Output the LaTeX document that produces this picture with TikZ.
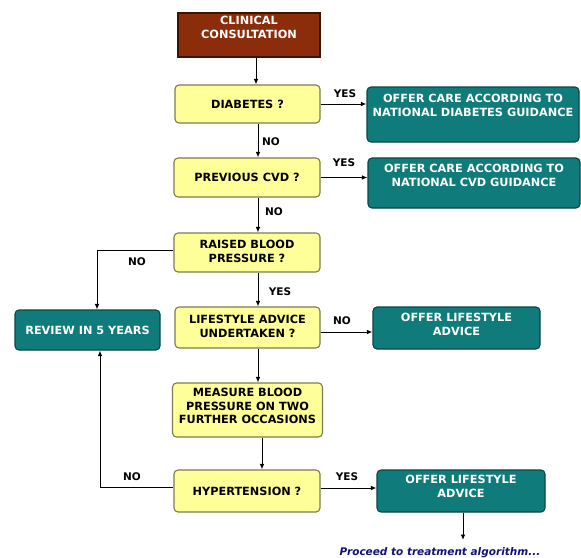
\documentclass[tikz,border=0pt]{standalone}
\usepackage{fontspec}
\setmainfont{DejaVu Sans}
\usetikzlibrary{arrows.meta}
\definecolor{ylw}{HTML}{FFFF99}
\definecolor{ylwb}{HTML}{7C7C55}
\definecolor{tealf}{HTML}{0F7C7B}
\definecolor{tealb}{HTML}{0A4545}
\definecolor{brn}{HTML}{8B2C0A}
\definecolor{brnb}{HTML}{3A1405}
\definecolor{navyt}{HTML}{12127A}
\newcommand{\boxtext}[2]{\begin{tabular}{@{}c@{}}#1\\[#2]\end{tabular}}
\tikzset{
  boxbase/.style={rounded corners=4pt, line width=1.1pt, inner sep=0pt,
    font=\bfseries\fontsize{11.3}{13.6}\selectfont},
  ybox/.style={boxbase, draw=ylwb, fill=ylw, text=black},
  tbox/.style={boxbase, draw=tealb, fill=tealf, text=white},
  bbox/.style={boxbase, draw=brnb, fill=brn, text=white, rounded corners=0pt},
  lbl/.style={font=\bfseries\fontsize{10.5}{12}\selectfont, inner sep=0pt},
  arr/.style={draw=black, line width=0.9pt, -{Latex[length=5.5pt,width=4.5pt]}},
  ln/.style={draw=black, line width=0.9pt}
}
\begin{document}
\begin{tikzpicture}[x=1pt,y=-1pt]
\useasboundingbox[fill=white] (0,0) rectangle (581,557);
% nodes
\node[bbox, minimum width=142pt, minimum height=44pt] (cc) at (249,35) {\boxtext{CLINICAL\\CONSULTATION}{13pt}};
\node[ybox, minimum width=145pt, minimum height=38pt] (diab) at (247.5,104) {DIABETES ?};
\node[tbox, minimum width=212pt, minimum height=55pt] (odg) at (473,114.5) {\boxtext{OFFER CARE ACCORDING TO\\NATIONAL DIABETES GUIDANCE}{16pt}};
\node[ybox, minimum width=146pt, minimum height=39pt] (cvd) at (247,177.5) {PREVIOUS CVD ?};
\node[tbox, minimum width=212pt, minimum height=50pt] (ocvd) at (474,183) {\boxtext{OFFER CARE ACCORDING TO\\NATIONAL CVD GUIDANCE}{13pt}};
\node[ybox, minimum width=146pt, minimum height=39pt] (rbp) at (247,252.5) {\boxtext{RAISED BLOOD\\PRESSURE ?}{0pt}};
\node[tbox, minimum width=145pt, minimum height=40pt] (rev) at (87.5,330) {REVIEW IN 5 YEARS};
\node[ybox, minimum width=145pt, minimum height=41pt] (lau) at (247.5,327.5) {\boxtext{LIFESTYLE ADVICE\\UNDERTAKEN ?}{0pt}};
\node[tbox, minimum width=167pt, minimum height=42pt] (ola1) at (456.5,328) {\boxtext{OFFER LIFESTYLE\\ADVICE}{5pt}};
\node[ybox, minimum width=150pt, minimum height=54pt] (meas) at (247.5,410) {\boxtext{MEASURE BLOOD\\PRESSURE ON TWO\\FURTHER OCCASIONS}{5pt}};
\node[ybox, minimum width=146pt, minimum height=42pt] (hyp) at (247,491) {HYPERTENSION ?};
\node[tbox, minimum width=168pt, minimum height=42pt] (ola2) at (461,491) {\boxtext{OFFER LIFESTYLE\\ADVICE}{7pt}};
\coordinate (end) at (463,540);
\node[font=\bfseries\itshape\fontsize{10.5}{12}\selectfont, text=navyt, inner sep=0pt, anchor=base] (proc) at (440,555) {Proceed to treatment algorithm...};
% connectors
\draw[arr] (cc.south -| 256,0) -- (diab.north -| 256,0);
\draw[arr] (diab.east) -- (odg.west |- diab.east);
\draw[arr] (diab.south -| 258,0) -- (cvd.north -| 258,0);
\draw[arr] (cvd.east) -- (ocvd.west |- cvd.east);
\draw[arr] (cvd.south -| 258,0) -- (rbp.north -| 258,0);
\draw[arr] (rbp.west |- 0,250) -| (rev.north -| 97,0);
\draw[arr] (rbp.south -| 258,0) -- (lau.north -| 258,0);
\draw[arr] (lau.east |- 0,332) -- (ola1.west |- 0,332);
\draw[arr] (lau.south -| 258,0) -- (meas.north -| 258,0);
\draw[arr] (meas.south -| 262,0) -- (hyp.north -| 262,0);
\draw[arr] (hyp.west |- 0,487) -| (rev.south -| 100,0);
\draw[arr] (hyp.east |- 0,488) -- (ola2.west |- 0,488);
\draw[arr] (ola2.south -| end) -- (end);
% labels
\node[lbl] (l1) at (345,94) {YES};
\node[lbl] (l2) at (271,142) {NO};
\node[lbl] (l3) at (344,163) {YES};
\node[lbl] (l4) at (274,212) {NO};
\node[lbl] (l5) at (137,262) {NO};
\node[lbl] (l6) at (280,292) {YES};
\node[lbl] (l7) at (342,321) {NO};
\node[lbl] (l8) at (132,477) {NO};
\node[lbl] (l9) at (347,477) {YES};
\end{tikzpicture}
\end{document}
